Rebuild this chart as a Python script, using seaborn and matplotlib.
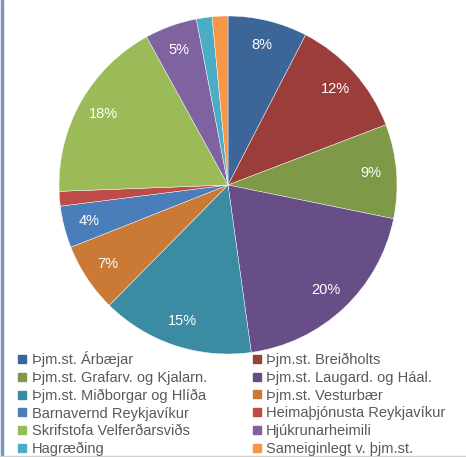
import matplotlib
matplotlib.use("Agg")
import matplotlib.pyplot as plt
import seaborn as sns
from matplotlib.lines import Line2D

# ==========================================
#   DATA
# ==========================================
categories = [
    "Þjm.st. Árbæjar", "Þjm.st. Breiðholts",
    "Þjm.st. Grafarv. og Kjalarn.", "Þjm.st. Laugard. og Háal.",
    "Þjm.st. Miðborgar og Hlíða", "Þjm.st. Vesturbær",
    "Barnavernd Reykjavíkur", "Heimaþjónusta Reykjavíkur",
    "Skrifstofa Velferðarsviðs", "Hjúkrunarheimili",
    "Hagræðing", "Sameiginlegt v. þjm.st.",
]
shares = [7.6, 11.6, 9.0, 19.6, 14.6, 6.6, 4.0, 1.4, 17.6, 5.0, 1.5, 1.5]
slice_colors = [
    "#3D6698", "#9B3D3B", "#7E9A48", "#684E86", "#3B8BA2", "#CB7A35",
    "#4A7EBB", "#BE4B48", "#9BBB59", "#7F63A1", "#4BACC6", "#F79646",
]

sns.set_theme(style="white")
plt.rcParams["font.family"] = ["Liberation Sans", "DejaVu Sans"]
palette = sns.color_palette(slice_colors)

fig = plt.figure(figsize=(4.66, 4.57), dpi=100)
fig.patch.set_facecolor("white")

# pie centre ~ (228, 185) px, radius ~169 px
W, H = 466, 457
cx, cy, r = 228, 185, 169
ax = fig.add_axes([(cx - r) / W, (H - cy - r) / H, 2 * r / W, 2 * r / H])


def pct_label(p):
    return f"{p:.0f}%" if p >= 3 else ""


wedges, texts, autotexts = ax.pie(
    shares,
    colors=palette,
    startangle=90,
    counterclock=False,
    autopct=pct_label,
    pctdistance=0.85,
    wedgeprops=dict(edgecolor="white", linewidth=0.3),
    textprops=dict(color="white", fontsize=10.5),
)
ax.set_xlim(-1, 1)
ax.set_ylim(-1, 1)
ax.set_aspect("equal")

# legend, row-wise order like the original (2 columns)
order = list(range(0, 12, 2)) + list(range(1, 12, 2))
handles = [
    Line2D([], [], marker="s", linestyle="", markersize=5.5,
           markerfacecolor=palette[i], markeredgecolor=palette[i])
    for i in order
]
labels = [categories[i] for i in order]
fig.legend(
    handles, labels, ncol=2, frameon=False,
    loc="upper left", bbox_to_anchor=(18 / W, 1 - 351 / H),
    fontsize=10.5, labelcolor="#595959",
    handlelength=0.6, handletextpad=0.35,
    labelspacing=0.26, columnspacing=3.1, borderpad=0, borderaxespad=0,
)

# frame bits of the original screenshot
fig.add_artist(Line2D([1.5 / W, 1.5 / W], [0, 1], color="#7A96BE", linewidth=2.5))
fig.add_artist(Line2D([0, 1], [1.5 / H, 1.5 / H], color="#D0D0D0", linewidth=1))

fig.savefig("out.png", dpi=100)
